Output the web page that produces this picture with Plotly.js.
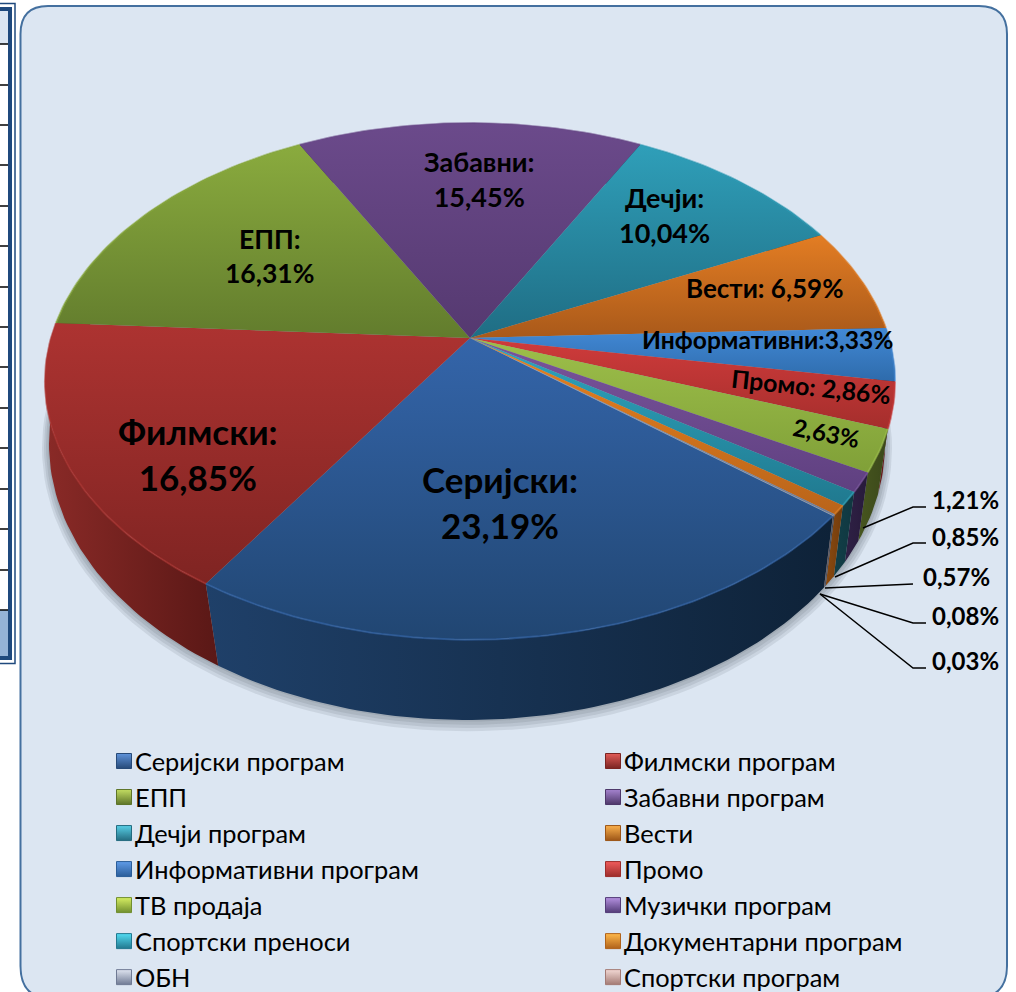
<!DOCTYPE html>
<html><head><meta charset="utf-8">
<script src="https://cdn.plot.ly/plotly-3.0.1.min.js"></script>
<style>html,body{margin:0;padding:0;background:#fff;overflow:hidden}#c{width:1016px;height:992px}</style>
</head><body><div id="c"></div>
<script>
var categories=['Серијски програм','Филмски програм','ЕПП','Забавни програм','Дечји програм','Вести','Информативни програм','Промо','ТВ продаја','Музички програм','Спортски преноси','Документарни програм','ОБН','Спортски програм'];
var values=[23.19,16.85,16.31,15.45,10.04,6.59,3.33,2.86,2.63,1.21,0.85,0.57,0.08,0.03];
var topLight=['#3465aa','#ad3331','#8aab3e','#6b4a8b','#2f9fb9','#e37d23','#4289d6','#cf3b3b','#9dbf4a','#7a549c','#2ea6c0','#e8821f','#8d9ab8','#c99a94'];
var topDark=['#214672','#7f2422','#627c2d','#553970','#1f6d84','#a9591a','#2e6bab','#a52e2c','#80a038','#5f4080','#20798f','#b9641a','#6d7a96','#a57a75'];
var wallLight=['#1f4069','#8a2a27','#4d5f22','#3a2a52','#17525f','#8c4c12','#1d4670','#6e1e1d','#47561f','#2f2145','#123f48','#8a4a10','#4a5468','#6e5552'];
var wallDark=['#0e2238','#5a1816','#3a4819','#281b3b','#123f4a','#6e3a0c','#14324f','#501413','#3b481a','#271a3b','#103740','#733c0c','#3a4252','#5a4442'];
var legendLight=['#5f93da','#e25b57','#c3dd62','#a583cf','#58cfe6','#fbb14d','#5f9be8','#f05c5c','#d6ee62','#b491e0','#52dcf2','#ffb84a','#dfe4f0','#f2d8d4'];
var legendDark=['#274a78','#7a2422','#5d7429','#4d3769','#246c80','#9c5517','#2a5d99','#9c2d2b','#718f2f','#533c78','#22788f','#b0621a','#6f7a94','#a37a74'];
var sliceLabels=[
 {t:'Серијски:<br>23,19%',x:500,y:502,s:35,a:0},
 {t:'Филмски:<br>16,85%',x:198,y:454,s:35,a:0},
 {t:'ЕПП:<br>16,31%',x:269,y:256,s:26.5,a:0},
 {t:'Забавни:<br>15,45%',x:479,y:179,s:27,a:0},
 {t:'Дечји:<br>10,04%',x:664,y:215,s:27,a:0},
 {t:'Вести: 6,59%',x:764,y:288,s:26,a:0},
 {t:'Информативни:3,33%',x:767,y:339,s:24.6,a:0},
 {t:'Промо: 2,86%',x:811,y:386,s:24.8,a:6},
 {t:'2,63%',x:826,y:432,s:24,a:11}];
var outerLabels=[{t:'1,21%',x:965,y:499},{t:'0,85%',x:965,y:536},{t:'0,57%',x:956,y:576},{t:'0,08%',x:965,y:615},{t:'0,03%',x:965,y:660}];
var leaderPaths=['M863 528L913 507L926 507','M835 577L913 543L926 543','M825 588L913 584','M820 594L913 623L926 623','M820 594L913 668L926 668'];
var tableRows=[44,85,125,165,206,246,287,327,367,408,448,489,529,570,610];

var FONT='Lato, Carlito, "Noto Sans", sans-serif';
// tilted-disc projection of the pie
var CX=470,CY=338,R=419,S=251,K=0.168,START=-50.7;
function rimTop(a){var r=a*Math.PI/180,u=-Math.sin(r),v=Math.cos(r),w=1-K*v;return [CX+R*u/w,CY+S*v/w];}
function rimLow(p){var c=(p[0]-470)/425,s=(p[1]-381.5)/258.5,f=Math.atan2(s,c);
 if(f>Math.PI/2&&f<Math.PI)f-=0.035*Math.sin(2*(f-Math.PI/2));
 return [467+418*Math.cos(f),444+276*Math.sin(f)];}
var total=values.reduce(function(a,b){return a+b},0);
var traces=[];
// soft shadow
[7,5,3,1].forEach(function(d){var xs=[],ys=[];for(var i=0;i<=180;i++){var t=i*2*Math.PI/180;xs.push(467+(418+d)*Math.cos(t));ys.push(444+d*0.6+(276+d)*Math.sin(t));}
 traces.push({type:'scatter',mode:'lines',x:xs,y:ys,fill:'toself',fillcolor:'rgba(50,60,70,0.10)',line:{width:0},showlegend:false,hoverinfo:'skip'});});
var spans=[],cum=START;
values.forEach(function(v){var d=v/total*360;spans.push([cum,cum+d]);cum+=d;});
function rim(sp){var n=Math.max(2,Math.ceil((sp[1]-sp[0])/1.2)),pts=[];for(var i=0;i<=n;i++)pts.push(rimTop(sp[0]+(sp[1]-sp[0])*i/n));return pts;}
// side walls
spans.forEach(function(sp,i){var pts=rim(sp),lo=pts.map(rimLow).reverse(),all=pts.concat(lo);all.push(pts[0]);
 traces.push({type:'scatter',mode:'lines',x:all.map(function(p){return p[0]}),y:all.map(function(p){return p[1]}),fill:'toself',
  fillgradient:{type:'horizontal',colorscale:[[0,wallLight[i]],[1,wallDark[i]]]},line:{width:0},showlegend:false,hoverinfo:'skip'});});
// top surfaces
spans.forEach(function(sp,i){var pts=rim(sp),all=[[CX,CY]].concat(pts);all.push([CX,CY]);
 traces.push({type:'scatter',mode:'lines',name:categories[i],x:all.map(function(p){return p[0]}),y:all.map(function(p){return p[1]}),fill:'toself',
  fillgradient:{type:'vertical',colorscale:[[0,topDark[i]],[1,topLight[i]]]},line:{width:0},showlegend:false,hoverinfo:'skip'});});
// rim highlight
spans.forEach(function(sp,i){var pts=rim(sp);
 traces.push({type:'scatter',mode:'lines',x:pts.map(function(p){return p[0]}),y:pts.map(function(p){return p[1]}),line:{width:2,color:topLight[i]},opacity:0.6,showlegend:false,hoverinfo:'skip'});});
// legend entries
categories.forEach(function(c,i){
 traces.push({type:'scatter',mode:'markers',name:c,x:[null],y:[null],marker:{symbol:'square',size:15,color:legendLight[i],gradient:{type:'vertical',color:legendDark[i]},line:{width:1,color:legendDark[i]}},hoverinfo:'skip'});});

var ann=sliceLabels.map(function(l){return {x:l.x,y:l.y,xref:'x',yref:'y',text:'<b>'+l.t+'</b>',showarrow:false,textangle:l.a,font:{family:FONT,size:l.s,color:'#000'},align:'center'};})
 .concat(outerLabels.map(function(l){return {x:l.x,y:l.y,xref:'x',yref:'y',text:'<b>'+l.t+'</b>',showarrow:false,font:{family:FONT,size:24,color:'#000'}};}));
var shapes=[
 {type:'path',layer:'below',path:'M20.5 34Q20.5 6 48 6L979 6Q1007 6 1007 34L1007 966Q1007 998 975 998L50 998Q20.5 998 20.5 966Z',fillcolor:'#dce6f2',line:{color:'#44709f',width:2}},
 {type:'rect',layer:'below',x0:0,x1:8,y0:10,y1:44,fillcolor:'#dce6f2',line:{width:0}},
 {type:'rect',layer:'below',x0:0,x1:8,y0:610,y1:656,fillcolor:'#95b3d7',line:{width:0}},
 {type:'path',layer:'below',path:'M0 3.5L15 3.5L15 663.5L0 663.5',line:{color:'#1f497d',width:1.5}},
 {type:'path',layer:'below',path:'M0 9L10 9L10 658L0 658',line:{color:'#1f497d',width:4}}
];
tableRows.forEach(function(y){shapes.push({type:'line',layer:'below',x0:0,x1:8,y0:y,y1:y,line:{color:'#000',width:1.5}});});
leaderPaths.forEach(function(p){shapes.push({type:'path',path:p,line:{color:'#000',width:1.5}});});

var layout={width:1016,height:992,margin:{l:0,r:0,t:0,b:0,autoexpand:false},paper_bgcolor:'#fff',plot_bgcolor:'rgba(0,0,0,0)',hovermode:false,
 xaxis:{range:[0,1016],visible:false,fixedrange:true},yaxis:{range:[992,0],visible:false,fixedrange:true},
 annotations:ann,shapes:shapes,
 legend:{orientation:'h',x:95/1016,xanchor:'left',y:1-738/992,yanchor:'top',entrywidth:444,entrywidthmode:'pixels',traceorder:'normal',bgcolor:'rgba(0,0,0,0)',borderwidth:0,font:{family:FONT,size:25.4,color:'#000'},maxheight:1}
};
Plotly.newPlot('c',traces,layout,{displayModeBar:false,staticPlot:true}).then(function(){
 document.querySelectorAll('.legendsymbols').forEach(function(g){g.setAttribute('transform','translate(9,0)');});
});
</script></body></html>
